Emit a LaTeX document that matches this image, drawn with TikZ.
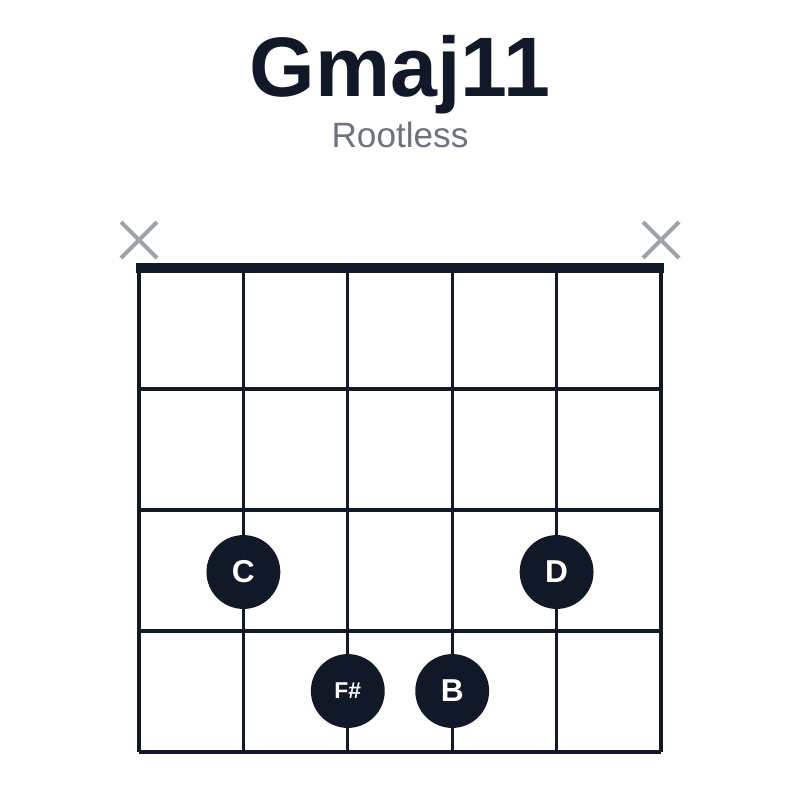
\documentclass[tikz,border=0pt]{standalone}
\usepackage{fontspec}
\setmainfont{Liberation Sans}
\definecolor{ink}{HTML}{111827}
\definecolor{subgray}{HTML}{6B7280}
\definecolor{xgray}{HTML}{9CA3AF}
\tikzset{
  fret/.style={ink, line width=0.9pt},
  note/.style={circle, fill=ink, text=white, minimum size=21pt, inner sep=0pt, font=\bfseries\fontsize{9}{9}\selectfont},
  mute/.style={xgray, line width=1.2pt}
}
\begin{document}
\begin{tikzpicture}[x=0.01cm, y=-0.01cm]
    \useasboundingbox (0,0) rectangle (800,800);
    \node[ink, font=\bfseries\fontsize{24}{24}\selectfont] (title) at (400,75) {Gmaj11};
    \node[subgray, font=\fontsize{10}{10}\selectfont] (sub) at (400,135) {Rootless};
    % strings
    \foreach \s in {0,...,5} {
      \draw[fret] (139+104.4*\s,268) -- (139+104.4*\s,752);
    };
    % frets
    \foreach \f in {1,...,4} {
      \draw[fret] (139,268+121*\f) -- (661,268+121*\f);
    };
    \draw[ink, line width=2.9pt] (136,268) -- (664,268);
    % muted strings
    \foreach \x in {139,661} {
      \draw[mute] (\x-18,222) -- (\x+18,258) (\x-18,258) -- (\x+18,222);
    };
    % fingers
    \node[note] (c) at (243.4,572) {C};
    \node[note] (d) at (556.6,572) {D};
    \node[note, font=\bfseries\fontsize{6.5}{6.5}\selectfont] (fs) at (347.8,691) {F\#};
    \node[note] (b) at (452.2,691) {B};
\end{tikzpicture}
\end{document}
